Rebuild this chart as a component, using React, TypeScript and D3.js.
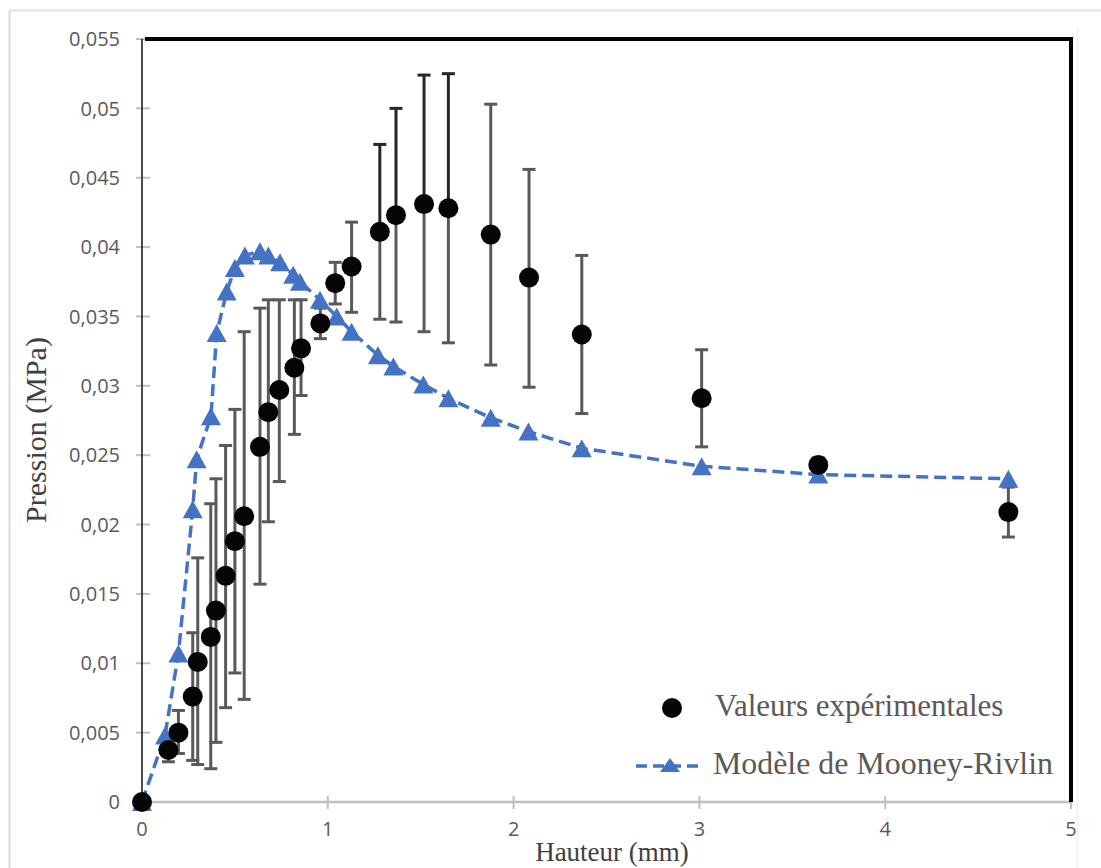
import React from "react";
import * as d3 from "d3";

// Experimental values (Hauteur mm, Pression MPa) with error bar ends
const expHeights = [0, 0.142, 0.196, 0.273, 0.3, 0.37, 0.398, 0.45, 0.5, 0.55, 0.635, 0.68, 0.739, 0.82, 0.856, 0.96, 1.04, 1.128, 1.28, 1.367, 1.518, 1.649, 1.877, 2.083, 2.367, 3.012, 3.64, 4.663];
const expPressure = [0, 0.00375, 0.005, 0.0076, 0.0101, 0.0119, 0.0138, 0.0163, 0.0188, 0.0206, 0.0256, 0.0281, 0.0297, 0.0313, 0.0327, 0.0345, 0.0374, 0.0386, 0.0411, 0.0423, 0.0431, 0.0428, 0.0409, 0.0378, 0.0337, 0.0291, 0.0243, 0.0209];
const expUpper = [0, 0.0045, 0.0066, 0.0122, 0.0176, 0.0215, 0.0233, 0.0257, 0.0283, 0.0339, 0.0356, 0.0362, 0.0362, 0.0362, 0.0362, 0.0356, 0.0389, 0.0418, 0.0474, 0.05, 0.0524, 0.0525, 0.0503, 0.0456, 0.0394, 0.0326, 0.0248, 0.0227];
const expLower = [0, 0.0029, 0.0035, 0.003, 0.0027, 0.0024, 0.0043, 0.0068, 0.0093, 0.0074, 0.0157, 0.0202, 0.0231, 0.0265, 0.0293, 0.0334, 0.0359, 0.0353, 0.0348, 0.0346, 0.0339, 0.0331, 0.0315, 0.0299, 0.028, 0.0256, 0.0238, 0.0191];

// Mooney-Rivlin model
const modelHeights = [0, 0.124, 0.196, 0.273, 0.294, 0.371, 0.402, 0.456, 0.5, 0.554, 0.635, 0.68, 0.743, 0.814, 0.85, 0.958, 1.048, 1.128, 1.27, 1.353, 1.514, 1.649, 1.877, 2.08, 2.367, 3.012, 3.64, 4.663];
const modelPressure = [0, 0.0048, 0.0107, 0.0211, 0.0247, 0.0278, 0.0338, 0.0368, 0.0385, 0.0394, 0.0397, 0.0394, 0.0389, 0.038, 0.0375, 0.0362, 0.035, 0.0339, 0.0322, 0.0314, 0.0301, 0.0291, 0.0277, 0.0267, 0.0255, 0.0242, 0.0236, 0.0233];

const xTicks = [0, 1, 2, 3, 4, 5];
const xTickLabels = ["0", "1", "2", "3", "4", "5"];
const yTicks = [0, 0.005, 0.01, 0.015, 0.02, 0.025, 0.03, 0.035, 0.04, 0.045, 0.05, 0.055];
const yTickLabels = ["0", "0,005", "0,01", "0,015", "0,02", "0,025", "0,03", "0,035", "0,04", "0,045", "0,05", "0,055"];

const legendLabels = ["Valeurs expérimentales", "Modèle de Mooney-Rivlin"];
const xTitle = "Hauteur (mm)";
const yTitle = "Pression (MPa)";

const W = 1101;
const H = 868;
const L = 142, R = 1071, T = 39, B = 802;

const BLUE = "#4472C4";
const SANS = "'Open Sans', 'DejaVu Sans', sans-serif";
const SERIF = "'Liberation Serif', 'Times New Roman', serif";

function tri(cx: number, cy: number, w = 20, h = 18) {
  return `M${cx},${cy - h / 2}L${cx + w / 2},${cy + h / 2}L${cx - w / 2},${cy + h / 2}Z`;
}

export default function App() {
  const x = d3.scaleLinear().domain([0, 5]).range([L, R]);
  const y = d3.scaleLinear().domain([0, 0.055]).range([B, T]);

  const modelPts = modelHeights.map((h, i) => [h, modelPressure[i]] as [number, number]);
  const line = d3.line<[number, number]>().x(d => x(d[0])).y(d => y(d[1]));

  const cap = 6.5;

  return (
    <svg width={W} height={H} style={{ position: "absolute", left: 0, top: 0, display: "block", background: "#fff" }}>
      {/* outer chart frame */}
      <line x1={9.5} y1={10} x2={9.5} y2={H} stroke="#d9d9d9" strokeWidth={2} />
      <line x1={9} y1={10.5} x2={W} y2={10.5} stroke="#e3e3e3" strokeWidth={2} />
      <line x1={1077.5} y1={28} x2={1077.5} y2={H} stroke="#f0f0f0" strokeWidth={1.5} />

      {/* y ticks */}
      {yTicks.map((t, i) => (
        <g key={"yt" + i}>
          <line x1={L - 6} x2={L + 8} y1={y(t)} y2={y(t)} stroke="#bfbfbf" strokeWidth={2} />
          <text x={120} y={y(t)} dy="0.36em" textAnchor="end" fontFamily={SANS} fontSize={20} fill="#595959">
            {yTickLabels[i]}
          </text>
        </g>
      ))}

      {/* x axis */}
      <line x1={L} x2={R} y1={B} y2={B} stroke="#bfbfbf" strokeWidth={2.5} />
      {xTicks.map((t, i) => (
        <g key={"xt" + i}>
          <line x1={x(t)} x2={x(t)} y1={B - 6} y2={B + 7} stroke="#bfbfbf" strokeWidth={2} />
          <text x={x(t)} y={836} textAnchor="middle" fontFamily={SANS} fontSize={20} fill="#595959">
            {xTickLabels[i]}
          </text>
        </g>
      ))}

      {/* y axis line */}
      <line x1={L} x2={L} y1={T} y2={B} stroke="#111" strokeWidth={1.5} />
      {/* top & right black border */}
      <line x1={L + 3} x2={R + 2} y1={T} y2={T} stroke="#000" strokeWidth={4} />
      <line x1={R} x2={R} y1={T - 2} y2={B} stroke="#000" strokeWidth={4} />

      {/* error bars */}
      {expHeights.map((h, i) => {
        if (i === 0) return null;
        const cx = x(h);
        const upColor = h > 1.2 && h < 1.7 ? "#262626" : "#595959";
        return (
          <g key={"eb" + i} strokeWidth={3}>
            <line x1={cx} x2={cx} y1={y(expPressure[i])} y2={y(expUpper[i])} stroke={upColor} />
            <line x1={cx - cap} x2={cx + cap} y1={y(expUpper[i])} y2={y(expUpper[i])} stroke={upColor} />
            <line x1={cx} x2={cx} y1={y(expPressure[i])} y2={y(expLower[i])} stroke="#595959" />
            <line x1={cx - cap} x2={cx + cap} y1={y(expLower[i])} y2={y(expLower[i])} stroke="#595959" />
          </g>
        );
      })}

      {/* model line */}
      <path d={line(modelPts) || ""} fill="none" stroke={BLUE} strokeWidth={3.5} strokeDasharray="12,6" />
      {modelPts.map((p, i) => (
        <path key={"tr" + i} d={tri(x(p[0]), y(p[1]))} fill={BLUE} />
      ))}

      {/* experimental points */}
      {expHeights.map((h, i) => (
        <circle key={"pt" + i} cx={x(h)} cy={y(expPressure[i])} r={10} fill="#050505" />
      ))}

      {/* legend */}
      <circle cx={672} cy={708} r={10} fill="#050505" />
      <text x={715} y={716} fontFamily={SERIF} fontSize={31} fill="#595959">{legendLabels[0]}</text>
      <line x1={636} x2={704} y1={766} y2={766} stroke={BLUE} strokeWidth={3.5} strokeDasharray="11,6" />
      <path d={tri(670, 765, 20, 14)} fill={BLUE} />
      <text x={713} y={774} fontFamily={SERIF} fontSize={31} textLength={340} lengthAdjust="spacingAndGlyphs" fill="#595959">{legendLabels[1]}</text>

      {/* axis titles */}
      <text x={612} y={861} textAnchor="middle" fontFamily={SERIF} fontSize={27} fill="#404040">{xTitle}</text>
      <text transform="translate(46,430) rotate(-90)" textAnchor="middle" fontFamily={SERIF} fontSize={30} fill="#404040">{yTitle}</text>
    </svg>
  );
}
